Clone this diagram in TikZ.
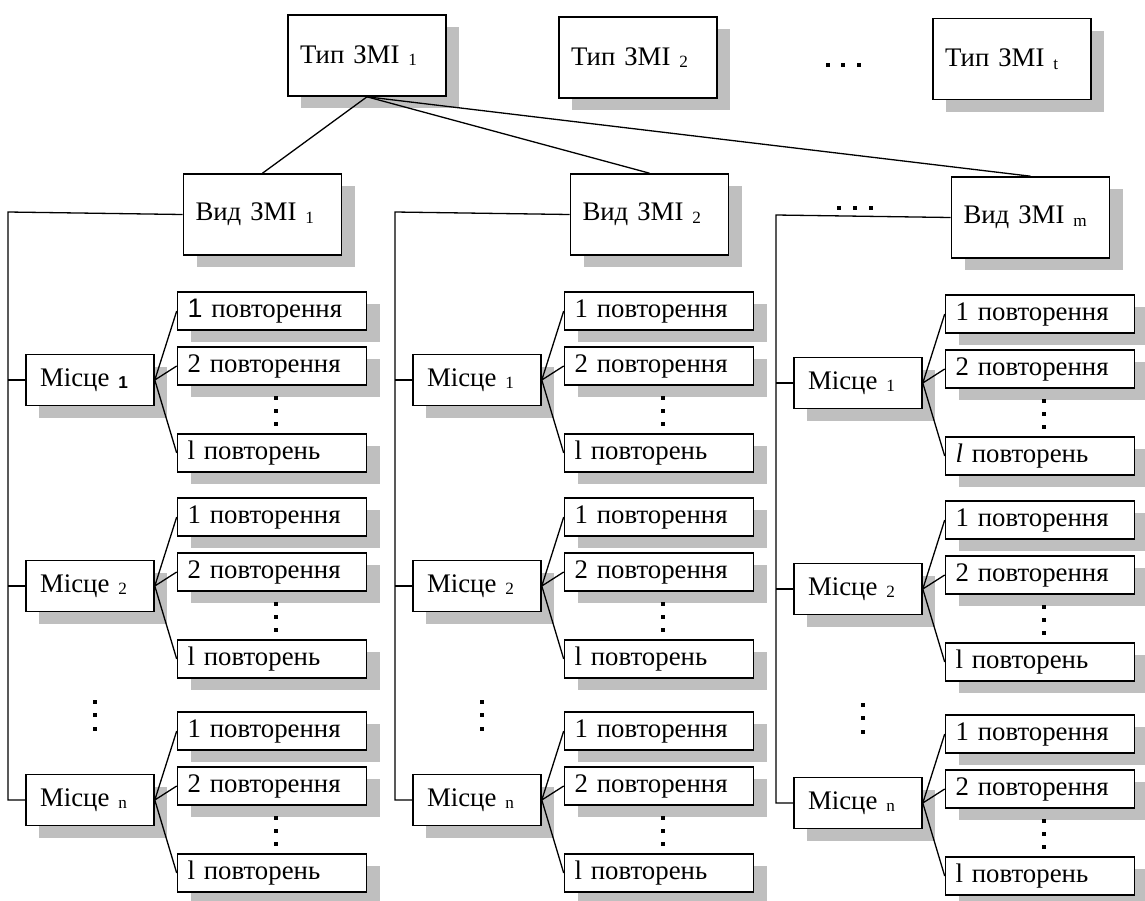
\documentclass[tikz,border=0pt]{standalone}
\usepackage{fontspec}
\setmainfont{Liberation Serif}
\newfontfamily\arialfont{Liberation Sans}
\usetikzlibrary{shadows}
\newcommand{\lowidx}[1]{\raisebox{-0.2ex}{\fontsize{8.6}{10}\selectfont #1}}
\newcommand{\boldone}{{\arialfont\bfseries 1}}
\newcommand{\sansone}{{\arialfont 1}}
\newcommand{\itell}{\textit{l}}

\begin{document}
\begin{tikzpicture}[x=0.5pt, y=-0.5pt, font=\fontsize{13.4}{16}\selectfont,
	boxshadow/.style={drop shadow={shadow xshift=6.5pt, shadow yshift=-6pt, fill=black!25, opacity=1}},
	bigbox/.style={draw, line width=0.8pt, fill=white, boxshadow, minimum height=40.5pt, inner xsep=6pt, inner ysep=0pt, text width=67pt, align=left},
	placebox/.style={bigbox, minimum height=25.5pt, inner xsep=7pt, text width=50pt},
	repbox/.style={bigbox, minimum height=19pt, inner xsep=5pt, text width=84.5pt},
	link/.style={line width=0.65pt}]

	\useasboundingbox (0,0) rectangle (1145,900);

	% types of media
	\node[bigbox] (t1) at (367,55.5) {Тип ЗМІ \lowidx{1}};
	\node[bigbox] (t2) at (638,57.5) {Тип ЗМІ \lowidx{2}};
	\node[bigbox] (tt) at (1012,59) {Тип ЗМІ \lowidx{t}};
	\foreach \x in {828,843,859} \fill (\x,65) +(-2,-2) rectangle +(2,2);
	\foreach \x in {839,855,871} \fill (\x,208) +(-2,-2) rectangle +(2,2);

	% one column per kind of media
	\foreach \c/\dx/\dy/\vs/\msone/\raone/\rlone in {1/0/0/1/\boldone/\sansone/l, 2/387/0/2/1/1/l, 3/768/3/m/1/1/\itell} {
		\node[bigbox] (v\c) at (262.5+\dx,214.5+\dy) {Вид ЗМІ \lowidx{\vs}};
		\coordinate (k\c) at (8+\dx,212+\dy);
		\foreach \g/\gy/\ms/\ra/\rl in {1/380/\msone/\raone/\rlone, 2/586/2/1/l, 3/800/n/1/l} {
			\node[placebox] (m\c\g) at (90+\dx,\gy+\dy) {Місце \lowidx{\ms}};
			\node[repbox] (r\c\g1) at (272+\dx,\gy+\dy-69) {\ra{} повторення};
			\node[repbox] (r\c\g2) at (272+\dx,\gy+\dy-14) {2 повторення};
			\node[repbox] (r\c\g3) at (272+\dx,\gy+\dy+73) {\rl{} повторень};
			\foreach \d in {18,31,44} \fill (276+\dx,\gy+\dy+\d) +(-2,-2) rectangle +(2,2);
			\draw[link] (m\c\g.east) -- (r\c\g1.west) (m\c\g.east) -- (r\c\g2.west) (m\c\g.east) -- (r\c\g3.west);
		}
		\foreach \d in {702,715,729} \fill (95+\dx,\d+\dy) +(-2,-2) rectangle +(2,2);
		\draw[link] (v\c.west) -- (k\c) |- (m\c3.west);
		\draw[link] (k\c |- m\c1.west) -- (m\c1.west) (k\c |- m\c2.west) -- (m\c2.west);
		\draw[link] (t1.south) -- (v\c.north);
	}
\end{tikzpicture}
\end{document}
